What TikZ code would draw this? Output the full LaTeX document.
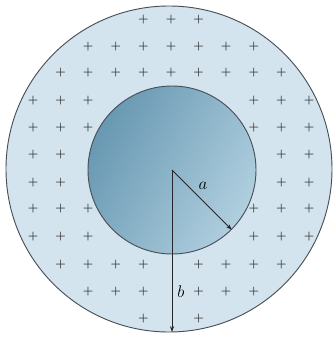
\documentclass[tikz,border=0pt]{standalone}
\usepackage{tikz}
\usetikzlibrary{arrows.meta}
\definecolor{shellblue}{RGB}{211,228,238}
\definecolor{coredark}{RGB}{104,152,178}
\definecolor{corelight}{RGB}{176,207,223}
\definecolor{rimgray}{RGB}{72,80,88}

\begin{document}
\begin{tikzpicture}[x=0.03cm, y=-0.03cm,
  shell/.style={circle, draw=rimgray, line width=0.8pt, fill=shellblue,
    minimum size=9.78cm, inner sep=0pt},
  core/.style={circle, draw=rimgray, line width=0.8pt,
    left color=coredark, right color=corelight, shading angle=60,
    minimum size=5.04cm, inner sep=0pt},
  charge/.style={text=black!80, inner sep=0pt, font=\normalsize\bfseries},
  radius/.style={-{Stealth[length=5pt,width=3.5pt]}, line width=0.65pt, black!85}
]
\useasboundingbox (0,0) rectangle (335,339);

% Outer shell
\node[shell] (outer) at (169,169) {};

% Charges in the shell
\foreach \row/\cols in {20/{4,5,6}, 47/{2,3,4,5,6,7,8}, 73/{1,2,3,4,5,6,7,8,9},
    101/{0,1,2,8,9,10}, 128/{0,1,2,8,9,10}, 155/{0,1,9,10}, 183/{0,1,9,10},
    209/{0,1,2,8,9,10}, 237/{0,1,2,8,9,10}, 265/{1,2,3,4,6,7,8,9},
    292/{2,3,4,6,7,8}, 319/{4,6}}
  \foreach \c in \cols
    \node[charge] (q-\row-\c) at (33+27.6*\c,\row) {+};

% Inner sphere
\node[core] (inner) at (172,170) {};
\coordinate (o) at (inner.center);
\coordinate (bend) at (172,332);

% Radii
\draw[radius] (o) -- (inner.-45);
\draw[radius] (o) -- (bend);
\node[font=\Large] (la) at (203,186) {$a$};
\node[font=\Large] (lb) at (181,292) {$b$};

\end{tikzpicture}
\end{document}
